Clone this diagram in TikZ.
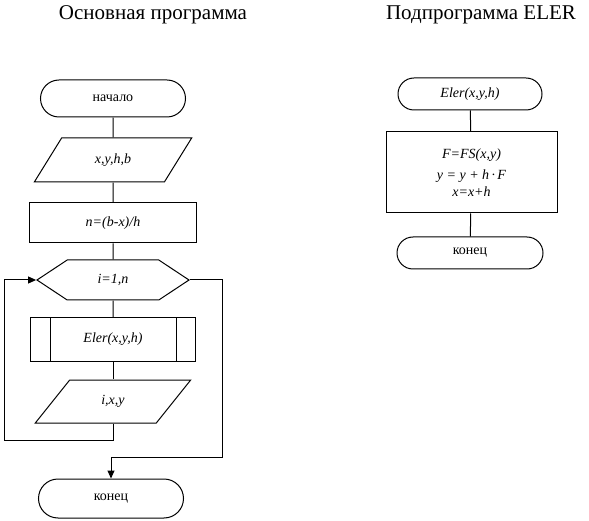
\documentclass[tikz,border=0pt]{standalone}
\usepackage{fontspec}
\setmainfont{Liberation Serif}
\usepackage{tikz}
\usetikzlibrary{
  shapes.geometric,
  shapes.misc,
  shapes.symbols,
  arrows.meta,
  positioning
}

\begin{document}
\begin{tikzpicture}[x=1pt, y=-1pt, font=\fontsize{14}{16}\selectfont, line width=1pt,
  every node/.style={inner sep=0pt},
  termBox/.style={draw, rounded rectangle, minimum height=37pt},
  ioBox/.style={draw, trapezium, trapezium left angle=53, trapezium right angle=127,
    trapezium stretches=true, minimum width=158pt, minimum height=44pt},
  procBox/.style={draw, rectangle},
  loopBox/.style={draw, signal, signal to=west and east, signal pointer angle=67,
    minimum width=152pt, minimum height=40pt},
  flow/.style={-{Triangle[length=8pt,width=7pt]}},
  titleText/.style={font=\fontsize{21}{24}\selectfont}
]

\useasboundingbox (0,0) rectangle (589,521);

% Titles
\node[titleText] (titleMain) at (153,15) {Основная программа};
\node[titleText] (titleSub)  at (481,15) {Подпрограмма ELER};

% Main program
\node[termBox, minimum width=145pt] (start) at (113,98.5) {начало};
\node[ioBox] (input) at (113,160) {\textit{x,y,h,b}};
\node[procBox, minimum width=167pt, minimum height=40pt] (calc) at (113,223) {\textit{n=(b-x)/h}};
\node[loopBox] (loop) at (113,280) {\textit{i=1,n}};
\node[procBox, minimum width=165pt, minimum height=43pt] (sub) at (113,339.5) {\textit{Eler(x,y,h)}};
\draw ([xshift=20pt]sub.north west) -- ([xshift=20pt]sub.south west);
\draw ([xshift=-20pt]sub.north east) -- ([xshift=-20pt]sub.south east);
\node[ioBox, minimum width=156pt, minimum height=43pt] (output) at (113,401.5) {\textit{i,x,y}};
\node[termBox, minimum width=145pt, minimum height=39pt] (finish) at (111,498.5) {конец};

\draw (start) -- (input);
\draw (input) -- (calc);
\draw (calc) -- (loop);
\draw (loop) -- (sub);
\draw (sub) -- (output);

% Loop back and exit
\coordinate (backCorner) at (4,440);
\coordinate (exitCorner) at (222,457);
\draw[flow] (output.south) |- (backCorner) |- (loop.west);
\draw[flow] (loop.east) -| (exitCorner) -| (finish.north);

% Subroutine ELER
\node[termBox, minimum width=144pt, minimum height=32pt] (eler) at (470,94) {\textit{Eler(x,y,h)}};
\node[procBox, minimum width=171pt, minimum height=81pt, align=center] (body) at (471.5,172.5)
  {\textit{F=FS(x,y)}\\[5pt] \textit{y = y + h\,·\,F}\\[1pt] \textit{x=x+h}};
\node[termBox, minimum width=146pt, minimum height=32pt] (finishSub) at (470,253) {конец};

\draw (eler) -- (body);
\draw (body) -- (finishSub);

\end{tikzpicture}
\end{document}
